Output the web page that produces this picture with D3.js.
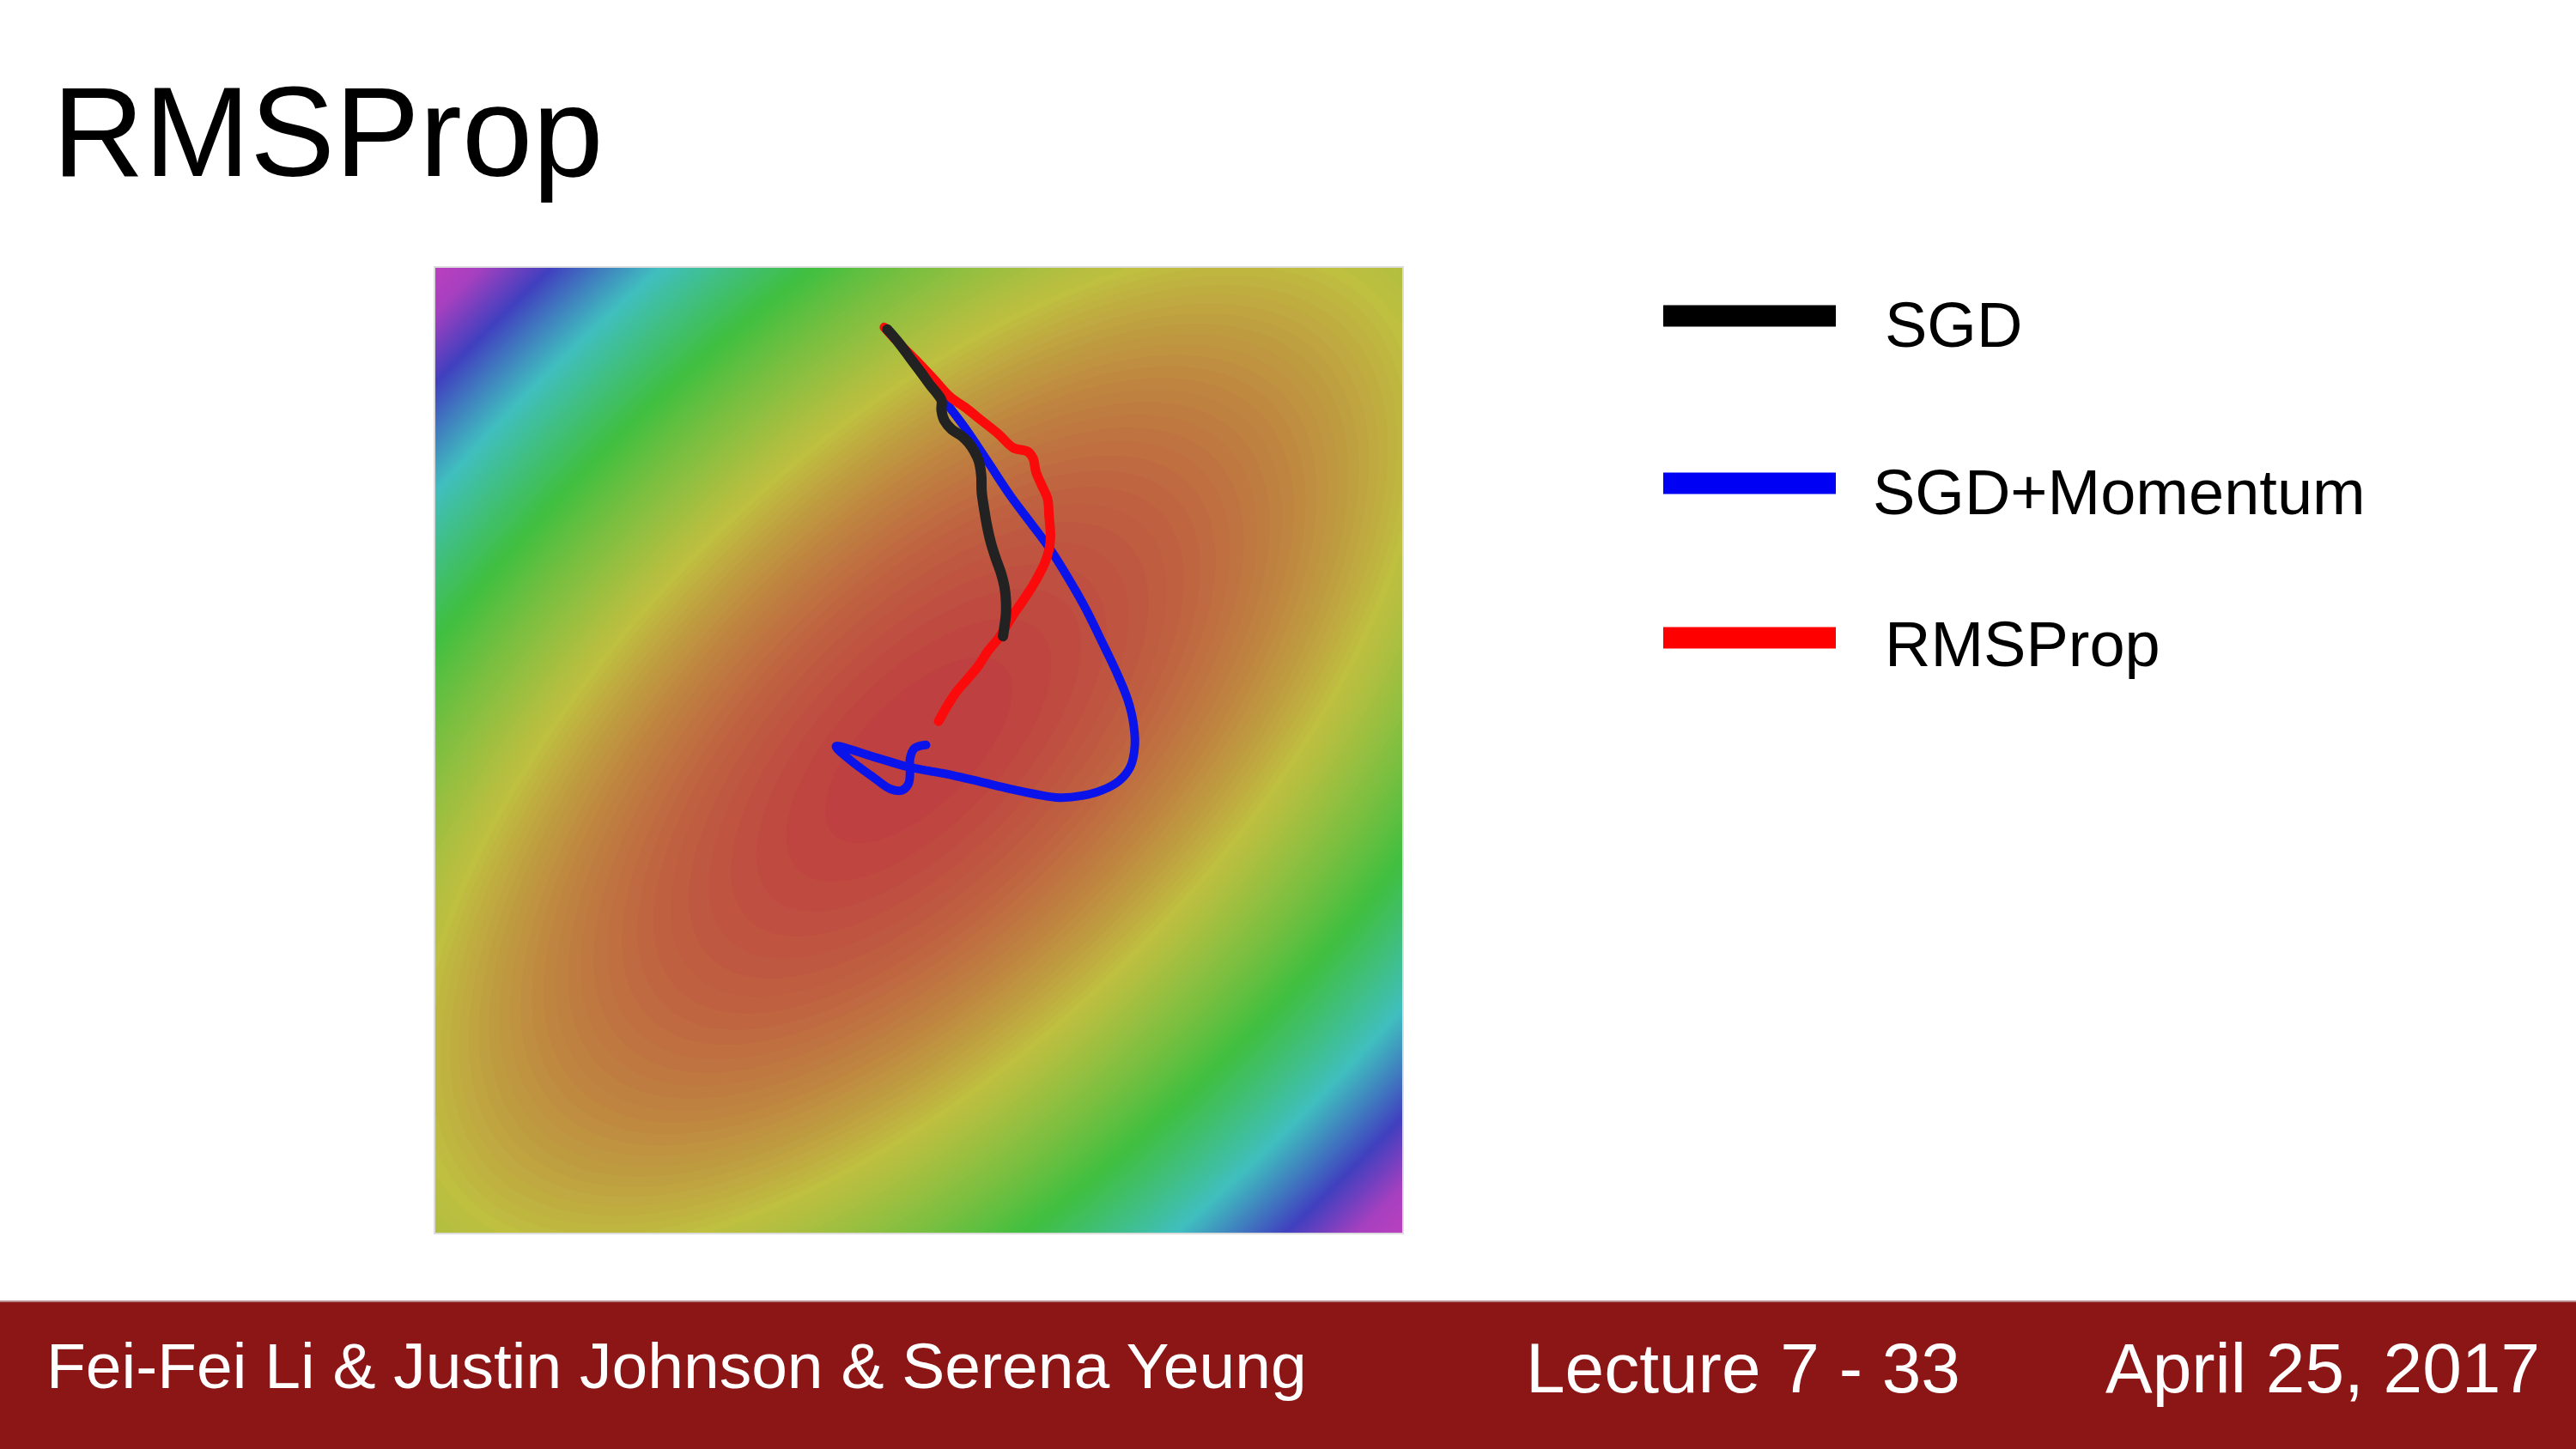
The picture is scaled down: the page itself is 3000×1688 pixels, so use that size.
<!DOCTYPE html>
<html>
<head>
<meta charset="utf-8">
<script src="https://cdn.jsdelivr.net/npm/d3@7"></script>
<style>
  html, body { margin: 0; padding: 0; background: #ffffff; }
  svg { display: block; }
</style>
</head>
<body>
<svg id="chart" width="3000" height="1688"></svg>
<script>
// ---------------- data ----------------
const slideTitle = "RMSProp";
const seriesNames = ["SGD", "SGD+Momentum", "RMSProp"];
const footerTexts = ["Fei-Fei Li & Justin Johnson & Serena Yeung", "Lecture 7 - 33", "April 25, 2017"];

// loss surface f(u,v) = a*u^2 + b*v^2 + c*u*v  on [-1,1] x [-1,1]
const surfaceCoef = [0.92, 0.93, -1.2];
const surfaceDomain = [-1, 1];
const lossLevels = d3.range(0.02, 3.2, 0.02);            // contour thresholds of f
const hueDomain = [0, 0.57, 1.23, 1.82, 2.36, 2.76, 3.1]; // f values read at colour bands
const hueRange  = [0, 60, 120, 180, 240, 288, 300];       // red, yellow, green, cyan, blue, purple

// trajectories, [u, v] in surface coordinates
const sgdPath = [
  [-0.065,0.871],[-0.041,0.843],[-0.018,0.812],[0.006,0.780],[0.024,0.755],[0.038,0.738],
  [0.047,0.724],[0.047,0.703],[0.053,0.682],[0.068,0.664],[0.089,0.650],[0.103,0.636],
  [0.115,0.618],[0.124,0.598],[0.129,0.569],[0.130,0.534],[0.135,0.499],[0.141,0.464],
  [0.149,0.429],[0.160,0.394],[0.170,0.366],[0.177,0.338],[0.180,0.310],[0.180,0.282],
  [0.177,0.257],[0.174,0.236]
];
const momentumPath = [
  [-0.065,0.871],[0.047,0.731],[0.095,0.668],[0.142,0.598],[0.189,0.527],[0.236,0.464],
  [0.272,0.415],[0.307,0.359],[0.343,0.296],[0.378,0.225],[0.408,0.162],[0.431,0.106],
  [0.443,0.057],[0.446,0.008],[0.437,-0.034],[0.414,-0.063],[0.378,-0.083],[0.337,-0.094],
  [0.290,-0.098],[0.242,-0.091],[0.189,-0.080],[0.130,-0.066],[0.071,-0.052],[0.012,-0.041],
  [-0.024,-0.034],[-0.095,-0.013],[-0.171,0.008],[-0.142,-0.020],[-0.095,-0.055],[-0.059,-0.080],
  [-0.035,-0.083],[-0.021,-0.069],[-0.018,-0.041],[-0.018,-0.017],[-0.009,0.004],[0.015,0.011]
];
const rmspropPath = [
  [-0.071,0.875],[-0.035,0.836],[0.000,0.801],[0.030,0.769],[0.065,0.731],[0.095,0.710],
  [0.130,0.682],[0.165,0.654],[0.195,0.626],[0.225,0.618],[0.236,0.604],[0.242,0.576],
  [0.254,0.548],[0.266,0.520],[0.269,0.485],[0.272,0.443],[0.269,0.415],[0.260,0.387],
  [0.242,0.352],[0.225,0.324],[0.201,0.289],[0.183,0.261],[0.165,0.232],[0.142,0.204],
  [0.124,0.176],[0.101,0.148],[0.077,0.120],[0.059,0.092],[0.041,0.060]
];

// ---------------- layout / style ----------------
const FONT = "'Liberation Sans', Arial, Helvetica, sans-serif";
const plot = { left: 506, top: 311, width: 1128, height: 1126 };
const lineColors = { "SGD": "#222222", "SGD+Momentum": "#0a14ea", "RMSProp": "#fa0a0a" };
const legendColors = { "SGD": "#000000", "SGD+Momentum": "#0000f5", "RMSProp": "#ff0000" };
const lineWidths = { "SGD": 12, "SGD+Momentum": 10, "RMSProp": 11 };

const svg = d3.select("#chart");

// title
svg.append("text")
  .attr("x", 61).attr("y", 205)
  .attr("font-family", FONT).attr("font-size", 148)
  .attr("fill", "#000")
  .text(slideTitle);

// scales
const xs = d3.scaleLinear().domain(surfaceDomain).range([plot.left, plot.left + plot.width]);
const ys = d3.scaleLinear().domain(surfaceDomain).range([plot.top + plot.height, plot.top]);
const hueScale = d3.scaleLinear().domain(hueDomain).range(hueRange).clamp(true);
const colorOf = f => d3.hsl(hueScale(f), 0.5, 0.5).formatHex();

// surface grid
const N = 220;
const [ca, cb, cc] = surfaceCoef;
const vals = new Float64Array(N * N);
for (let j = 0; j < N; j++) {
  const v = surfaceDomain[1] - (j + 0.5) * (surfaceDomain[1] - surfaceDomain[0]) / N;
  for (let i = 0; i < N; i++) {
    const u = surfaceDomain[0] + (i + 0.5) * (surfaceDomain[1] - surfaceDomain[0]) / N;
    vals[j * N + i] = ca * u * u + cb * v * v + cc * u * v;
  }
}
const bands = d3.contours().size([N, N]).thresholds(lossLevels)(vals);
const proj = d3.geoTransform({
  point(x, y) {
    const u = surfaceDomain[0] + x * (surfaceDomain[1] - surfaceDomain[0]) / N;
    const v = surfaceDomain[1] - y * (surfaceDomain[1] - surfaceDomain[0]) / N;
    this.stream.point(xs(u), ys(v));
  }
});
const geo = d3.geoPath(proj);
const step = lossLevels[1] - lossLevels[0];

const gSurf = svg.append("g");
gSurf.append("rect")
  .attr("x", xs(surfaceDomain[0])).attr("y", ys(surfaceDomain[1]))
  .attr("width", xs(surfaceDomain[1]) - xs(surfaceDomain[0]))
  .attr("height", ys(surfaceDomain[0]) - ys(surfaceDomain[1]))
  .attr("fill", colorOf(0));
gSurf.selectAll("path.band")
  .data(bands)
  .join("path")
  .attr("class", "band")
  .attr("d", geo)
  .attr("fill", d => colorOf(d.value + step / 2));
gSurf.append("rect")
  .attr("x", xs(surfaceDomain[0])).attr("y", ys(surfaceDomain[1]))
  .attr("width", xs(surfaceDomain[1]) - xs(surfaceDomain[0]))
  .attr("height", ys(surfaceDomain[0]) - ys(surfaceDomain[1]))
  .attr("fill", "none").attr("stroke", "#dcdcdc").attr("stroke-width", 2);

// trajectories
const line = d3.line()
  .x(d => xs(d[0])).y(d => ys(d[1]))
  .curve(d3.curveCatmullRom.alpha(0.5));
const drawOrder = [["SGD+Momentum", momentumPath], ["RMSProp", rmspropPath], ["SGD", sgdPath]];
svg.append("g").selectAll("path.traj")
  .data(drawOrder)
  .join("path")
  .attr("class", "traj")
  .attr("d", d => line(d[1]))
  .attr("fill", "none")
  .attr("stroke", d => lineColors[d[0]])
  .attr("stroke-width", d => lineWidths[d[0]])
  .attr("stroke-linecap", "round")
  .attr("stroke-linejoin", "round");

// legend
const legendY = d3.scaleOrdinal().domain(seriesNames).range([368, 563, 743]);
const legendTextY = d3.scaleOrdinal().domain(seriesNames).range([404, 599, 776]);
const legendTextX = d3.scaleOrdinal().domain(seriesNames).range([2195, 2181, 2195]);
const gLeg = svg.append("g");
gLeg.selectAll("rect")
  .data(seriesNames)
  .join("rect")
  .attr("x", 1937).attr("width", 201)
  .attr("y", d => legendY(d) - 12.5).attr("height", 25)
  .attr("fill", d => legendColors[d]);
gLeg.selectAll("text")
  .data(seriesNames)
  .join("text")
  .attr("x", d => legendTextX(d)).attr("y", d => legendTextY(d))
  .attr("font-family", FONT).attr("font-size", 74)
  .attr("fill", "#000")
  .text(d => d);

// footer
svg.append("rect").attr("x", 0).attr("y", 1517).attr("width", 3000).attr("height", 171).attr("fill", "#8c1515");
svg.append("rect").attr("x", 0).attr("y", 1515).attr("width", 3000).attr("height", 2).attr("fill", "#b58a8a");
const footerX = [54, 1777, 2452];
const footerY = [1617, 1622, 1622];
const footerSize = [75, 82, 82];
svg.append("g").selectAll("text")
  .data(footerTexts)
  .join("text")
  .attr("x", (d, i) => footerX[i]).attr("y", (d, i) => footerY[i])
  .attr("font-family", FONT).attr("font-size", (d, i) => footerSize[i])
  .attr("fill", "#ffffff")
  .text(d => d);
</script>
</body>
</html>
